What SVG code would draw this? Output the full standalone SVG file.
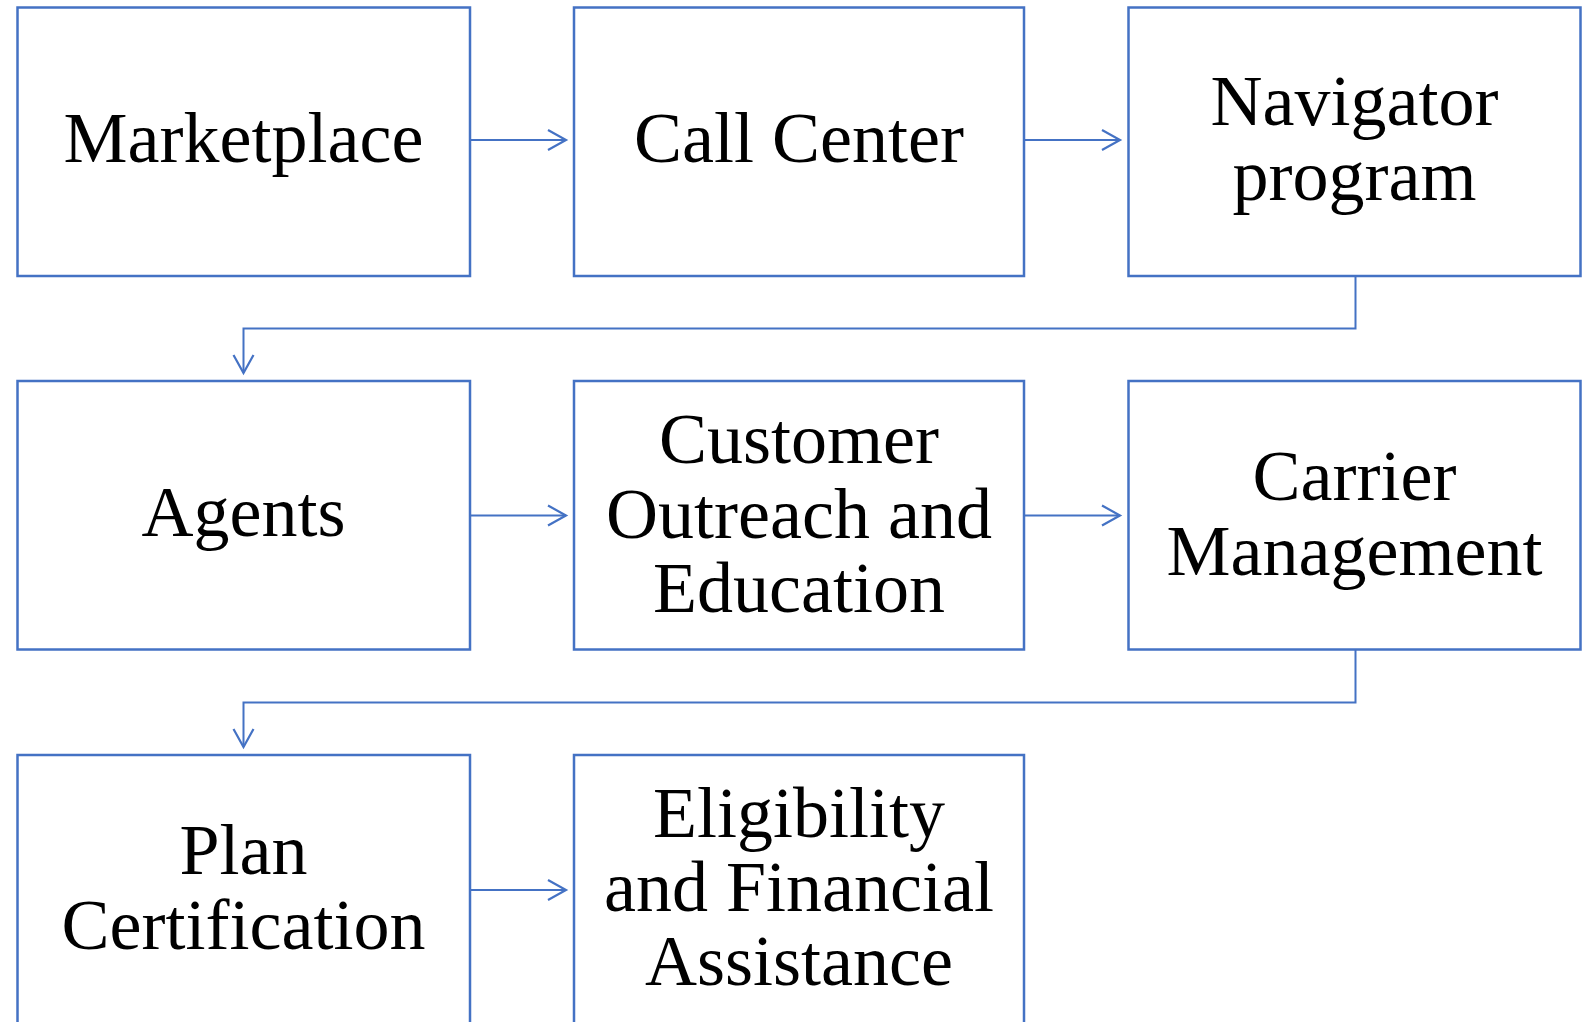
<svg xmlns="http://www.w3.org/2000/svg" width="1589" height="1022" viewBox="0 0 1589 1022">
<style>
.box{fill:#fff;stroke:#4472C4;stroke-width:2.5}
.lbl{font-family:"Liberation Serif","Times New Roman",serif;font-size:72px;fill:#000;text-anchor:middle}
.con{fill:none;stroke:#4472C4;stroke-width:2}
</style>
<defs>
<marker id="arr" markerUnits="userSpaceOnUse" markerWidth="24" markerHeight="24" viewBox="-20 -12 24 24" refX="0" refY="0" orient="auto">
<path d="M-18,-10 L0,0 L-18,10" fill="none" stroke="#4472C4" stroke-width="2.2"/>
</marker>
</defs>
<rect width="1589" height="1022" fill="#fff"/>
<g id="connectors">
<path class="con" d="M470,140 H566" marker-end="url(#arr)"/>
<path class="con" d="M1024,140 H1120" marker-end="url(#arr)"/>
<path class="con" d="M1355.5,276 V328.5 H243.5 V373" marker-end="url(#arr)"/>
<path class="con" d="M470,515.5 H566" marker-end="url(#arr)"/>
<path class="con" d="M1024,515.5 H1120" marker-end="url(#arr)"/>
<path class="con" d="M1355.5,649.5 V702.5 H243.5 V747" marker-end="url(#arr)"/>
<path class="con" d="M470,890 H566" marker-end="url(#arr)"/>
</g>
<g id="marketplace">
<rect class="box" x="17.5" y="7.5" width="452.5" height="268.5"/>
<text class="lbl" x="243.5" y="162">Marketplace</text>
</g>
<g id="call-center">
<rect class="box" x="574" y="7.5" width="450" height="268.5"/>
<text class="lbl" x="799" y="162">Call Center</text>
</g>
<g id="navigator-program">
<rect class="box" x="1128.5" y="7.5" width="452" height="268.5"/>
<text class="lbl" x="1354.5" y="125">Navigator</text>
<text class="lbl" x="1354.5" y="200">program</text>
</g>
<g id="agents">
<rect class="box" x="17.5" y="381" width="452.5" height="268.5"/>
<text class="lbl" x="243.5" y="536">Agents</text>
</g>
<g id="customer-outreach">
<rect class="box" x="574" y="381" width="450" height="268.5"/>
<text class="lbl" x="799" y="463">Customer</text>
<text class="lbl" x="799" y="538">Outreach and</text>
<text class="lbl" x="799" y="612">Education</text>
</g>
<g id="carrier-management">
<rect class="box" x="1128.5" y="381" width="452" height="268.5"/>
<text class="lbl" x="1354.5" y="500">Carrier</text>
<text class="lbl" x="1354.5" y="575">Management</text>
</g>
<g id="plan-certification">
<rect class="box" x="17.5" y="755" width="452.5" height="268.5"/>
<text class="lbl" x="243.5" y="874">Plan</text>
<text class="lbl" x="243.5" y="949">Certification</text>
</g>
<g id="eligibility">
<rect class="box" x="574" y="755" width="450" height="268.5"/>
<text class="lbl" x="799" y="837">Eligibility</text>
<text class="lbl" x="799" y="911">and Financial</text>
<text class="lbl" x="799" y="985">Assistance</text>
</g>
</svg>
